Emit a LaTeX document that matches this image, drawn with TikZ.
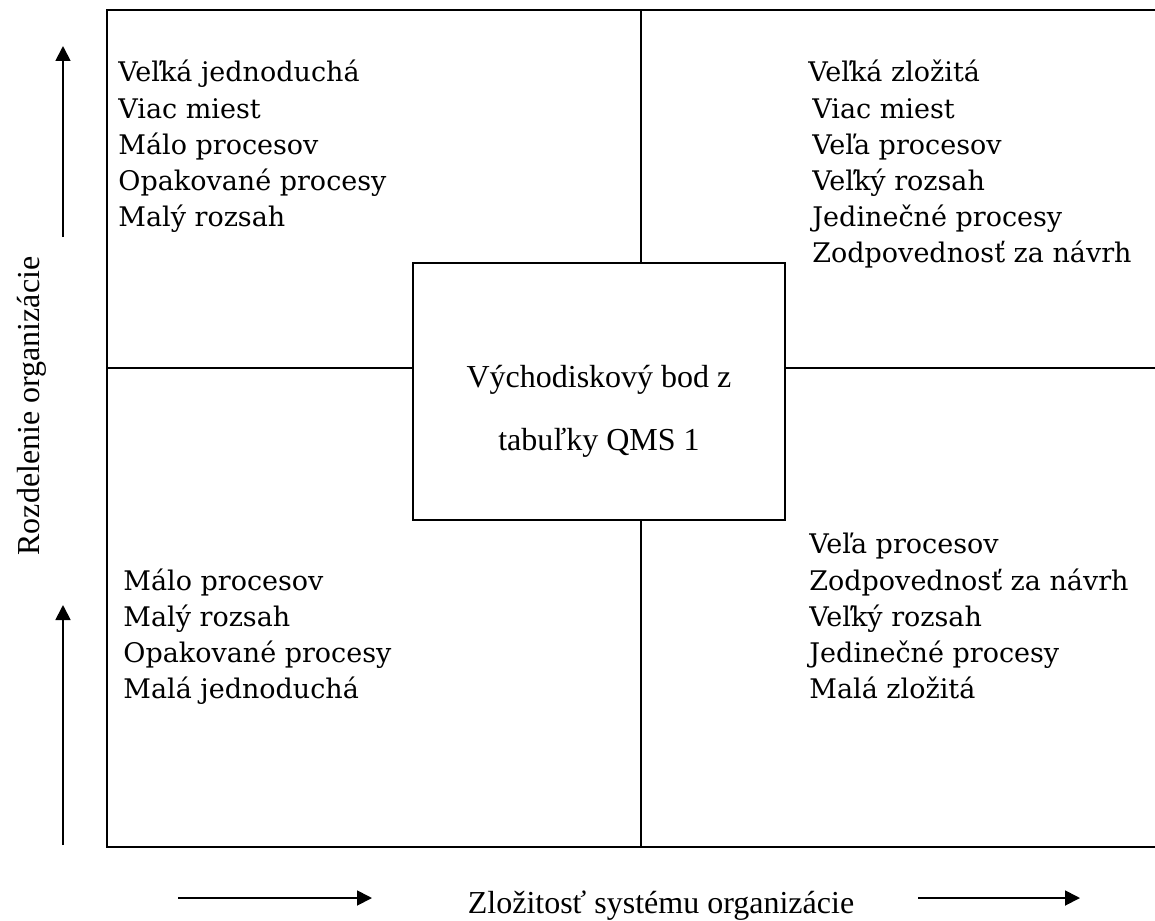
\documentclass[tikz,border=0pt]{standalone}
\usepackage{fontspec}
\setmainfont{Liberation Serif}
\newfontfamily\quadfont{DejaVu Serif}
\usetikzlibrary{arrows.meta}
\tikzset{
    quadtext/.style = {anchor = north west, align = left, inner sep = 0pt,
        font = \quadfont\fontsize{13.5}{18.1}\selectfont},
    axistext/.style = {inner sep = 0pt, font = \fontsize{16}{18}\selectfont},
    axisarrow/.style = {-{Triangle[length = 7.5pt, width = 7.5pt]}, line width = 0.9pt},
}
\begin{document}
\begin{tikzpicture}[x = 0.5pt, y = -0.5pt]
    \useasboundingbox (0, 0) rectangle (1155, 920);
    % frame and centre box
    \draw [line width = 1.3pt]
        (1155, 10) -- (107, 10) -- (107, 847) -- (1155, 847)
    ;
    \node [draw, line width = 1pt, minimum width = 186pt, minimum height = 128.5pt,
        inner sep = 0pt] (qms) at (599, 391.5) {};
    \node [align = center, font = \fontsize{16}{31.5}\selectfont] (qmstext)
        at ([yshift = -10pt] qms.center) {Východiskový bod z\\tabuľky QMS 1};

    \coordinate (midtop) at (641, 10);
    \coordinate (midbot) at (641, 847);
    \coordinate (midleft) at (107, 368);
    \coordinate (midright) at (1155, 368);
    \draw [line width = 1.3pt]
        (midtop) -- (midtop |- qms.north)
        (qms.south -| midbot) -- (midbot)
        (midleft) -- (midleft -| qms.west)
        (qms.east |- midright) -- (midright)
    ;

    % quadrants
    \node [quadtext] (bigsimple) at (118, 60)
        {Veľká jednoduchá\\Viac miest\\Málo procesov\\Opakované procesy\\Malý rozsah};
    \node [quadtext] (bigcomplex) at (808, 60)
        {Veľká zložitá\\\hspace{2pt}Viac miest\\\hspace{2pt}Veľa procesov\\\hspace{2pt}Veľký rozsah\\\hspace{2pt}Jedinečné procesy\\\hspace{2pt}Zodpovednosť za návrh};
    \node [quadtext] (smallsimple) at (123, 568)
        {Málo procesov\\Malý rozsah\\Opakované procesy\\Malá jednoduchá};
    \node [quadtext] (smallcomplex) at (809, 533)
        {Veľa procesov\\Zodpovednosť za návrh\\Veľký rozsah\\Jedinečné procesy\\Malá zložitá};

    % axes
    \node [axistext, rotate = 90] (ylabel) at (32, 406) {Rozdelenie organizácie};
    \node [axistext, anchor = base] (xlabel) at (661, 913) {Zložitosť systému organizácie};
    \coordinate (ya1) at (63, 237);
    \coordinate (yb1) at (63, 46);
    \coordinate (ya2) at (63, 845);
    \coordinate (yb2) at (63, 605);
    \coordinate (xa1) at (178, 898);
    \coordinate (xb1) at (372, 898);
    \coordinate (xa2) at (918, 898);
    \coordinate (xb2) at (1080, 898);
    \draw [axisarrow] (ya1) -- (yb1);
    \draw [axisarrow] (ya2) -- (yb2);
    \draw [axisarrow] (xa1) -- (xb1);
    \draw [axisarrow] (xa2) -- (xb2);
\end{tikzpicture}
\end{document}
